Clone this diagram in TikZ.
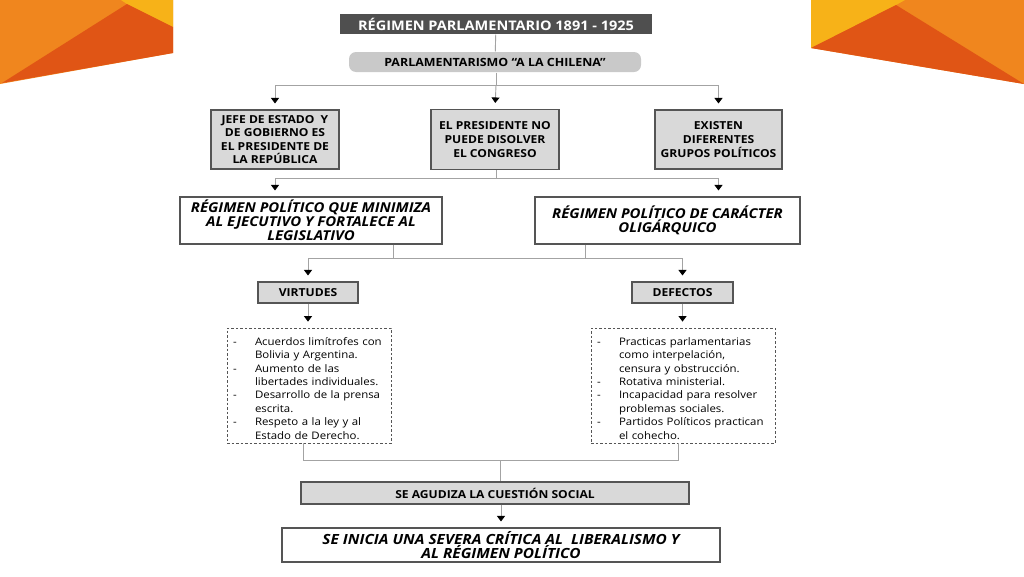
\documentclass[tikz,border=0pt]{standalone}
\usepackage{fontspec}
\setmainfont{Open Sans}[FakeStretch=1.1]
\usetikzlibrary{arrows.meta}
\definecolor{naranja}{HTML}{F0861E}
\definecolor{naranjaosc}{HTML}{E05515}
\definecolor{amarillo}{HTML}{F7B218}
\definecolor{grisoscuro}{HTML}{4F4F4F}
\definecolor{grisclaro}{HTML}{D9D9D9}
\definecolor{grismedio}{HTML}{C9C9C9}
\definecolor{borde}{HTML}{555555}
\definecolor{linea}{HTML}{A3A3A3}
\newcommand{\guion}[1]{\par\noindent\hangindent=22pt\hangafter=1\makebox[22pt][l]{-}#1}

\begin{document}
\begin{tikzpicture}[x=1pt,y=-1pt,line width=1pt,
  caja/.style={draw=borde,line width=1.1pt,fill=grisclaro,align=center,inner sep=0pt,
    font=\bfseries\fontsize{11}{13.6}\selectfont},
  cajab/.style={draw=borde,line width=1.1pt,fill=white,align=center,inner sep=0pt,
    font=\bfseries\itshape\fontsize{13.6}{13.8}\selectfont},
  lista/.style={draw=borde,line width=0.8pt,dash pattern=on 2.5pt off 2pt,fill=white,
    inner xsep=6pt,inner ysep=0pt,font=\fontsize{10.4}{13.4}\selectfont},
  con/.style={draw=linea,line width=0.9pt},
  flecha/.style={con,-{Triangle[width=8pt,length=5.5pt,black]},shorten >=6pt}]
  \useasboundingbox (0,0) rectangle (1024,576);
  % ===================== adornos naranjas =====================
  \fill[naranja] (0,0)--(173,0)--(173,53)--(0,84)--cycle;
  \fill[amarillo] (121,0)--(173,0)--(173,27)--(127,4)--cycle;
  \fill[naranjaosc] (127,4)--(173,27)--(173,53)--(2,83)--cycle;
  \fill[naranja] (811,0)--(1024,0)--(1024,84)--(811,48)--cycle;
  \fill[amarillo] (811,0)--(905,0)--(896,5)--(811,48)--cycle;
  \fill[naranjaosc] (896,5)--(1024,84)--(811,48)--cycle;
  % ===================== titulo =====================
  \node[fill=grisoscuro,text=white,minimum width=312,minimum height=20,inner sep=0pt,
    font=\bfseries\fontsize{13.2}{14}\selectfont] (titulo) at (496,24) {RÉGIMEN PARLAMENTARIO 1891 - 1925};
  \node[fill=grismedio,rounded corners=7pt,minimum width=292,minimum height=20,inner sep=0pt,
    font=\bfseries\fontsize{11.3}{12}\selectfont] (chilena) at (495,62) {PARLAMENTARISMO “A LA CHILENA”};
  % ===================== primera fila =====================
  \node[caja,minimum width=128,minimum height=59] (jefe) at (275,139.5)
    {JEFE DE ESTADO~ Y\\DE GOBIERNO ES\\EL PRESIDENTE DE\\LA REPÚBLICA};
  \node[caja,minimum width=128,minimum height=60] (presidente) at (495,139.5)
    {EL PRESIDENTE NO\\PUEDE DISOLVER\\EL CONGRESO};
  \node[caja,minimum width=127,minimum height=59] (existen) at (718.5,139.5)
    {EXISTEN\\DIFERENTES\\GRUPOS POLÍTICOS};
  % ===================== segunda fila =====================
  \node[cajab,minimum width=262,minimum height=47] (minimiza) at (311,220.5)
    {RÉGIMEN POLÍTICO QUE MINIMIZA\\AL EJECUTIVO Y FORTALECE AL\\LEGISLATIVO};
  \node[cajab,minimum width=265,minimum height=47] (oligarquico) at (667.5,220.5)
    {RÉGIMEN POLÍTICO DE CARÁCTER\\OLIGÁRQUICO};
  % ===================== virtudes y defectos =====================
  \node[caja,minimum width=100,minimum height=21] (virtudes) at (308,292.5) {VIRTUDES};
  \node[caja,minimum width=101,minimum height=21] (defectos) at (682.5,292.5) {DEFECTOS};
  \node[lista,text width=152,minimum height=115] (acuerdos) at (309,385.5) {\raggedright
    \guion{Acuerdos limítrofes con\newline Bolivia y Argentina.}
    \guion{Aumento de las\newline libertades individuales.}
    \guion{Desarrollo de la prensa\newline escrita.}
    \guion{Respeto a la ley y al\newline Estado de Derecho.}\par};
  \node[lista,text width=172,minimum height=115] (practicas) at (683,385.5) {\raggedright
    \guion{Practicas parlamentarias\newline como interpelación,\newline censura y obstrucción.}
    \guion{Rotativa ministerial.}
    \guion{Incapacidad para resolver\newline problemas sociales.}
    \guion{Partidos Políticos practican\newline el cohecho.}\par};
  % ===================== final =====================
  \node[caja,minimum width=388,minimum height=22] (agudiza) at (495,493) {SE AGUDIZA LA CUESTIÓN SOCIAL};
  \node[cajab,minimum width=438,minimum height=34,font=\bfseries\itshape\fontsize{14}{13.6}\selectfont] (critica) at (501,545)
    {SE INICIA UNA SEVERA CRÍTICA AL~ LIBERALISMO Y\\AL RÉGIMEN POLÍTICO};
  % ---------- uniones ----------
  \coordinate (u1) at (496,85);
  \coordinate (u2) at (496,178);
  \coordinate (u3) at (393,258);
  \coordinate (u4) at (585,258);
  \coordinate (u5) at (500,460);
  \coordinate (u6) at (303,460);
  \coordinate (u7) at (678,460);
  % ---------- conectores ----------
  \draw[con] (titulo) -- (chilena);
  \draw[con] (chilena.south -| u1) -- (u1);
  \draw[flecha] (u1) -| (jefe.north);
  \draw[flecha] (u1) -| (existen.north);
  \draw[flecha] (u1) -- (presidente.north);
  \draw[con] (presidente.south -| u2) -- (u2);
  \draw[flecha] (u2) -| (jefe |- minimiza.north);
  \draw[flecha] (u2) -| (existen |- oligarquico.north);
  \draw[con] (minimiza.south -| u3) -- (u3) -- (u4);
  \draw[con] (oligarquico.south -| u4) -- (u4);
  \draw[flecha] (u3) -| (virtudes.north);
  \draw[flecha] (u4) -| (defectos.north);
  \draw[flecha] (virtudes.south) -- (acuerdos.north -| virtudes);
  \draw[flecha] (defectos.south) -- (practicas.north -| defectos);
  \draw[con] (acuerdos.south -| u6) -- (u6) -- (u7) -- (practicas.south -| u7);
  \draw[con] (u5) -- (agudiza.north -| u5);
  \draw[flecha] (agudiza.south -| critica) -- (critica.north);
\end{tikzpicture}
\end{document}
